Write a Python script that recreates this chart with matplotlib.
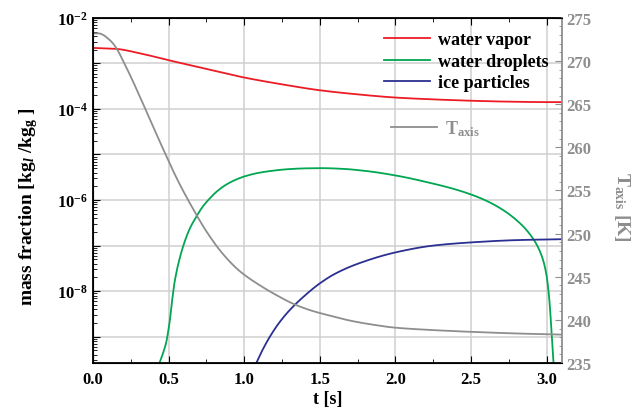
import numpy as np
import matplotlib
matplotlib.use('Agg')
import matplotlib.pyplot as plt
from matplotlib.ticker import FixedLocator, FuncFormatter, MultipleLocator, LogLocator, NullFormatter

plt.rcParams['font.family'] = 'Liberation Serif'
plt.rcParams['font.weight'] = 'bold'
plt.rcParams['mathtext.fontset'] = 'custom'
plt.rcParams['mathtext.rm'] = 'Liberation Serif:bold'
plt.rcParams['mathtext.it'] = 'Liberation Serif:italic:bold'
plt.rcParams['mathtext.bf'] = 'Liberation Serif:bold'

# water vapor, log10 mass fraction
t_vap = [0, 0.15, 0.3, 0.5, 0.75, 1.0, 1.25, 1.5, 1.75, 2.0, 2.25, 2.5, 2.75, 3.0, 3.1]
lg_vap = [-2.66, -2.68, -2.77, -2.93, -3.12, -3.31, -3.46, -3.59, -3.68, -3.75, -3.79, -3.82, -3.84, -3.85, -3.85]

# water droplets
t_drop = [0.44, 0.465, 0.485, 0.507, 0.525, 0.54, 0.573, 0.606, 0.64, 0.683, 0.725, 0.771, 0.82, 0.882,
          0.94, 1.003, 1.085, 1.168, 1.28, 1.4, 1.52, 1.65, 1.8, 2.0, 2.25, 2.4, 2.556, 2.688, 2.82, 2.908,
          2.964, 2.997, 3.018, 3.032, 3.045]
lg_drop = [-9.58, -9.35, -9.12, -8.68, -8.17, -7.80, -7.29, -6.92, -6.63, -6.37, -6.15, -5.97, -5.81, -5.66,
           -5.56, -5.48, -5.41, -5.365, -5.325, -5.305, -5.30, -5.315, -5.36, -5.46, -5.64, -5.77, -5.95,
           -6.17, -6.50, -6.84, -7.2, -7.62, -8.22, -8.9, -9.58]

# ice particles
t_ice = [1.08, 1.12, 1.17, 1.23, 1.3, 1.4, 1.5, 1.6, 1.75, 2.0, 2.25, 2.5, 2.8, 3.1]
lg_ice = [-9.58, -9.30, -9.00, -8.70, -8.42, -8.10, -7.83, -7.62, -7.40, -7.15, -7.0, -6.93, -6.88, -6.86]

# axis temperature [K]
t_T = [0, 0.04, 0.07, 0.1, 0.13, 0.165, 0.2, 0.25, 0.33, 0.463, 0.56, 0.661, 0.75, 0.85, 0.95, 1.003, 1.1,
       1.2, 1.34, 1.45, 1.566, 1.7, 1.85, 2.0, 2.25, 2.556, 2.8, 3.1]
T_axis = [273.2, 273.2, 273.0, 272.6, 272.1, 271.2, 270.0, 268.2, 265.1, 259.85, 256.2, 252.9, 250.27,
          247.84, 245.97, 245.2, 244.05, 243.0, 241.75, 241.05, 240.5, 239.92, 239.45, 239.1, 238.82,
          238.58, 238.43, 238.3]

c_red = '#ec1c24'
c_green = '#00a651'
c_blue = '#2b3090'
c_gray = '#8e8e8e'


def smooth(x, y, n=400):
    # piecewise cubic hermite through the read points
    x = np.asarray(x, float); y = np.asarray(y, float)
    xs = np.linspace(x[0], x[-1], n)
    h = np.diff(x); d = np.diff(y) / h
    m = np.zeros_like(y)
    m[0] = d[0]; m[-1] = d[-1]
    for i in range(1, len(y) - 1):
        if d[i - 1] * d[i] <= 0:
            m[i] = 0
        else:
            w1 = 2 * h[i] + h[i - 1]; w2 = h[i] + 2 * h[i - 1]
            m[i] = (w1 + w2) / (w1 / d[i - 1] + w2 / d[i])
    idx = np.clip(np.searchsorted(x, xs) - 1, 0, len(x) - 2)
    s = (xs - x[idx]) / h[idx]
    h00 = 2 * s**3 - 3 * s**2 + 1; h10 = s**3 - 2 * s**2 + s
    h01 = -2 * s**3 + 3 * s**2; h11 = s**3 - s**2
    ys = h00 * y[idx] + h10 * h[idx] * m[idx] + h01 * y[idx + 1] + h11 * h[idx] * m[idx + 1]
    return xs, ys


fig = plt.figure(figsize=(6.32, 4.10), dpi=100)
ax = fig.add_axes([0.147, 0.112, 0.742, 0.842])
ax2 = ax.twinx()

x, y = smooth(t_vap, lg_vap)
l1, = ax.plot(x, 10**y, color=c_red, lw=1.3, label='water vapor')
x, y = smooth(t_drop, lg_drop)
l2, = ax.plot(x, 10**y, color=c_green, lw=1.3, label='water droplets')
x, y = smooth(t_ice, lg_ice)
l3, = ax.plot(x, 10**y, color=c_blue, lw=1.3, label='ice particles')
x, y = smooth(t_T, T_axis)
l4, = ax2.plot(x, y, color=c_gray, lw=1.3, label='T$_{\\mathrm{axis}}$')

ax.set_yscale('log')
ax.set_xlim(0, 3.1)
ax.set_ylim(10**-9.58, 1e-2)
ax2.set_ylim(235, 275)

ax.yaxis.set_major_locator(FixedLocator([10.0**k for k in range(-9, -1)]))
ax.yaxis.set_major_formatter(FuncFormatter(
    lambda v, p: '$10^{%d}$' % round(np.log10(v)) if round(np.log10(v)) % 2 == 0 else ''))
ax.yaxis.set_minor_locator(LogLocator(base=10, subs=np.arange(2, 10), numticks=20))
ax.yaxis.set_minor_formatter(NullFormatter())
ax.xaxis.set_major_locator(MultipleLocator(0.5))
ax.xaxis.set_minor_locator(MultipleLocator(0.25))
ax.xaxis.set_major_formatter(FuncFormatter(lambda v, p: '%.1f' % v))
ax2.yaxis.set_major_locator(MultipleLocator(5))
ax2.yaxis.set_minor_locator(MultipleLocator(1))

ax.grid(True, which='major', color='#cfcfcf', lw=1.1)
ax.set_axisbelow(True)

ax.tick_params(axis='both', which='major', direction='in', length=5, labelsize=12, top=True, right=False)
ax.tick_params(axis='both', which='minor', direction='in', length=3, top=True, right=False)
ax.tick_params(axis='x', which='major', pad=6)
ax2.tick_params(axis='y', which='major', direction='in', length=5, labelsize=12, colors=c_gray)
ax2.tick_params(axis='y', which='minor', direction='in', length=2.5, colors=c_gray)
ax2.spines['right'].set_color(c_gray)
ax2.spines['right'].set_linewidth(1.3)
for s in ['left', 'bottom', 'top']:
    ax.spines[s].set_linewidth(1.3)
ax.spines['right'].set_visible(False)

ax.set_xlabel('t [s]', fontsize=13, fontweight='bold', labelpad=2)
ax.set_ylabel('mass fraction [kg$_{\\mathit{l}}$ /kg$_{\\mathrm{g}}$ ]', fontsize=14, fontweight='bold')
ax.yaxis.set_label_coords(-0.112, 0.455)
ax2.set_ylabel('T$_{\\mathrm{axis}}$ [K]', fontsize=14, fontweight='bold', color=c_gray, rotation=270)
ax2.yaxis.set_label_coords(1.15, 0.455)

leg1 = ax2.legend(handles=[l1, l2, l3], loc='upper right', bbox_to_anchor=(1.0, 1.0), frameon=False,
                  fontsize=13, handlelength=2.6, handletextpad=0.4, labelspacing=0.25, borderaxespad=0.35)
ax2.add_artist(leg1)
leg2 = ax2.legend(handles=[l4], loc='center left', bbox_to_anchor=(0.6, 0.68), frameon=False,
                  fontsize=13, handlelength=2.6, handletextpad=0.4)
for txt in leg2.get_texts():
    txt.set_color(c_gray)

fig.savefig('out.png', dpi=100)
